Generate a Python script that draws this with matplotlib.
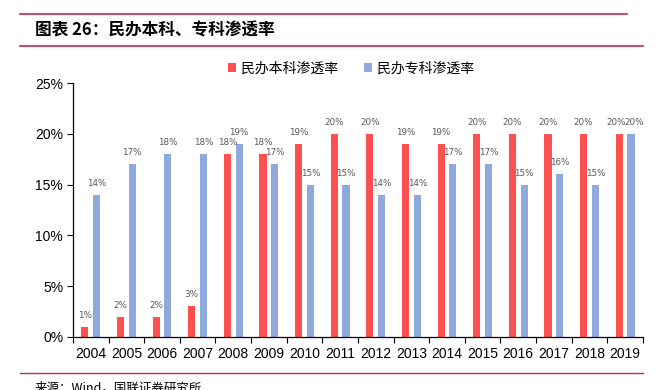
import matplotlib
matplotlib.use('Agg')
import matplotlib.pyplot as plt
from matplotlib.lines import Line2D
from matplotlib.ticker import FixedLocator, PercentFormatter
import numpy as np

plt.rcParams['font.family'] = ['Noto Sans CJK SC', 'DejaVu Sans']

years = ['2004', '2005', '2006', '2007', '2008', '2009', '2010', '2011',
         '2012', '2013', '2014', '2015', '2016', '2017', '2018', '2019']
undergrad = [1, 2, 2, 3, 18, 18, 19, 20, 20, 19, 19, 20, 20, 20, 20, 20]
junior = [14, 17, 18, 18, 19, 17, 15, 15, 14, 14, 17, 17, 15, 16, 15, 20]
yticks = [0, 5, 10, 15, 20, 25]

red = '#FF5050'
blue = '#8EA9DB'
label_color = '#595959'

fig = plt.figure(figsize=(6.69, 3.9), dpi=100)
ax = fig.add_axes([0.109, 0.136, 0.852, 0.651])

x = np.arange(len(years))
w = 0.2
off = 0.165
b1 = ax.bar(x - off, undergrad, w, color=red, label='民办本科渗透率')
b2 = ax.bar(x + off, junior, w, color=blue, label='民办专科渗透率')

# value labels; push apart when both sit at the same height
for i in range(len(years)):
    same = abs(undergrad[i] - junior[i]) < 1
    nudge = 0.1 if same else 0
    ax.text(x[i] - off - nudge, undergrad[i] + 0.7, f'{undergrad[i]}%', ha='center',
            va='bottom', fontsize=6.3, color=label_color, family='DejaVu Sans')
    ax.text(x[i] + off + nudge, junior[i] + 0.7, f'{junior[i]}%', ha='center',
            va='bottom', fontsize=6.3, color=label_color, family='DejaVu Sans')

ax.set_xlim(-0.5, len(years) - 0.5)
ax.set_ylim(0, 25)
ax.set_yticks(yticks)
ax.yaxis.set_major_formatter(PercentFormatter(decimals=0))
ax.set_xticks(x)
ax.set_xticklabels(years)
ax.xaxis.set_minor_locator(FixedLocator(np.arange(-0.5, len(years), 1)))
ax.tick_params(axis='x', which='major', length=0, pad=7, labelsize=10)
ax.tick_params(axis='x', which='minor', length=4, direction='out', width=0.8)
ax.tick_params(axis='y', length=4, direction='out', width=0.8, labelsize=10, pad=3)
for lab in ax.get_xticklabels() + ax.get_yticklabels():
    lab.set_family('Liberation Sans')
for s in ('top', 'right'):
    ax.spines[s].set_visible(False)
for s in ('left', 'bottom'):
    ax.spines[s].set_linewidth(0.9)

ax.legend(loc='lower center', bbox_to_anchor=(0.488, 0.98), ncol=2, frameon=False,
          fontsize=10, handlelength=0.6, handleheight=0.6, handletextpad=0.4,
          columnspacing=1.8)

line_col = '#C8284B'
fig.add_artist(Line2D([0.03, 0.937], [0.965, 0.965], color=line_col, lw=1.2))
fig.add_artist(Line2D([0.03, 0.961], [0.882, 0.882], color=line_col, lw=1.2))
fig.add_artist(Line2D([0.03, 0.961], [0.044, 0.044], color=line_col, lw=1.0))
fig.text(0.052, 0.922, '图表 26：民办本科、专科渗透率', fontsize=12, fontweight='bold',
         style='italic', va='center', ha='left')
fig.text(0.052, -0.012, '来源：Wind，国联证券研究所', fontsize=9, va='bottom', ha='left')

fig.savefig('out.png', dpi=100)
